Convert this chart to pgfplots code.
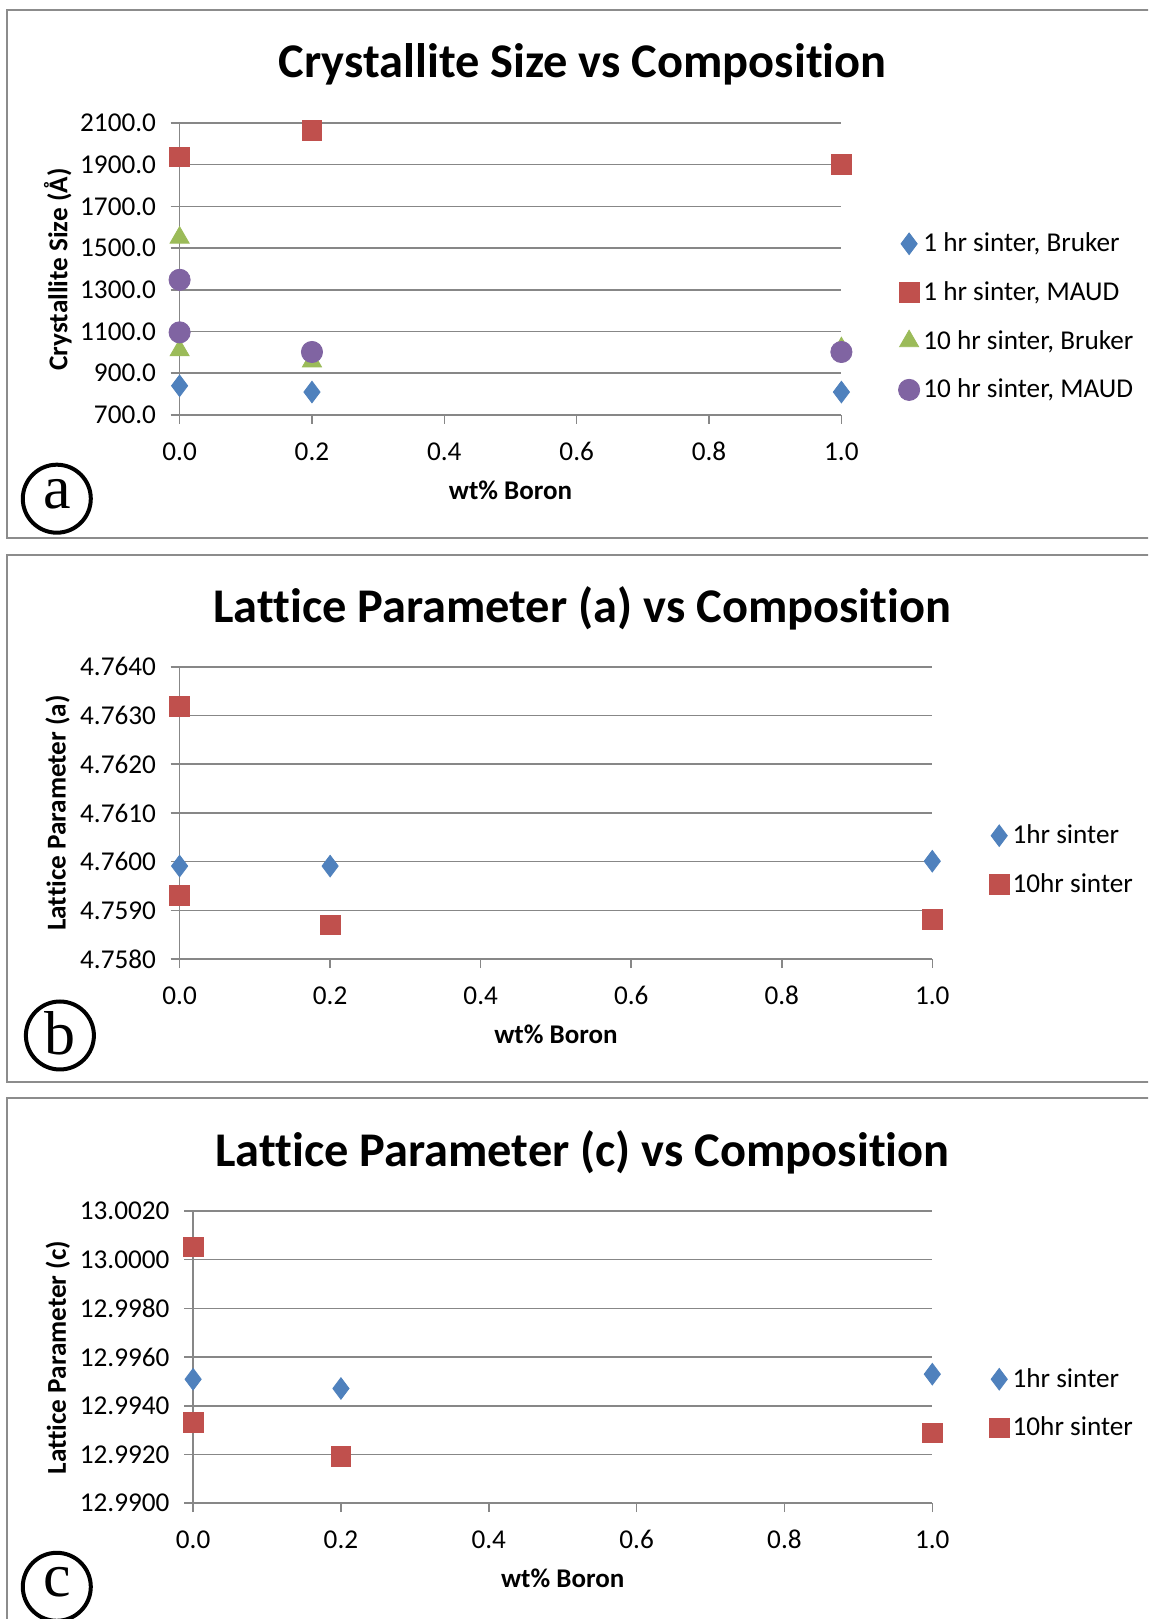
\documentclass[border=0pt]{standalone}
\usepackage{pgfplots}
\pgfplotsset{compat=1.18}
\usepackage{fontspec}
\setmainfont{Carlito}[Ligatures=NoCommon]
\newfontfamily\seriffont{Liberation Serif}
\definecolor{cblue}{HTML}{4F81BD}
\definecolor{cred}{HTML}{C0504D}
\definecolor{cgreen}{HTML}{9BBB59}
\definecolor{cpurple}{HTML}{8064A2}
\definecolor{gridc}{HTML}{878787}
\definecolor{framec}{HTML}{8C8C8C}

\pgfplotsset{
  excel/.style={
    scale only axis,
    clip=false,
    axis lines=left,
    axis line style={-, draw=gridc, line width=0.8pt},
    ymajorgrids,
    grid style={draw=gridc, line width=0.8pt},
    major tick style={draw=gridc, line width=0.8pt},
    tick align=outside,
    major tick length=4.5pt,
    xmin=0, xmax=1,
    xtick={0,0.2,0.4,0.6,0.8,1.0},
    /pgf/number format/assume math mode=true,
    tick label style={font=\fontsize{13.6}{16}\selectfont},
    xticklabel={\pgfmathprintnumber[fixed,fixed zerofill,precision=1]{\tick}},
    xticklabel style={anchor=base, yshift=-18.2pt},
    yticklabel style={anchor=east, inner sep=0pt, xshift=-7.1pt},
    title style={font=\fontsize{24.2}{28}\selectfont\bfseries, anchor=center},
    xlabel style={font=\fontsize{13.5}{16}\selectfont\bfseries, anchor=center, at={(axis description cs:0.5,-0.257)}},
    ylabel style={font=\fontsize{13.6}{16}\selectfont\bfseries, anchor=center},
    xlabel={wt\% Boron},
    legend style={draw=none, fill=none, inner sep=0pt, outer sep=0pt,
      font=\fontsize{13.6}{16}\selectfont, row sep=13.4pt,
      nodes={inner xsep=1.8pt, inner ysep=0pt}, anchor=west},
    legend cell align=left,
    legend image code/.code={\draw[#1] plot coordinates {(0pt,0pt)};},
  },
  s1/.style={only marks, mark=diamond*, mark size=5.4pt, color=cblue},
  s2/.style={only marks, mark=square*, mark size=4.9pt, color=cred},
  s3/.style={only marks, mark=triangle*, mark size=5.5pt, color=cgreen},
  s4/.style={only marks, mark=*, mark size=5.3pt, color=cpurple},
}

\begin{document}
\begin{tikzpicture}
\useasboundingbox (0,0) rectangle (574pt,809.5pt);
\clip (0,0) rectangle (574pt,809.5pt);
\fill[white] (0,0) rectangle (574pt,809.5pt);

\begin{scope}[x=0.5pt,y=-0.5pt,shift={(0pt,809.5pt)}]
  \draw[framec, line width=1pt] (7.2,10.3) rectangle (1170,537.9);
  \draw[framec, line width=1pt] (7.2,555.4) rectangle (1170,1082);
  \draw[framec, line width=1pt] (7.2,1098.5) rectangle (1170,1640);
\end{scope}

% ---------- panel a ----------
\begin{axis}[excel,
  at={(89.8pt,602pt)}, anchor=south west,
  width=330.9pt, height=146.05pt,
  ymin=700, ymax=2100,
  ytick={700,900,1100,1300,1500,1700,1900,2100},
  yticklabel={\pgfmathprintnumber[fixed,fixed zerofill,precision=1,1000 sep={}]{\tick}},
  title={Crystallite Size vs Composition},
  title style={at={(axis description cs:0.609,1.158)}},
  ylabel={Crystallite Size (Å)},
  ylabel style={at={(axis description cs:-0.184,0.498)}},
  legend style={at={(axis description cs:1.0863,0.336)}},
]
\addplot[s1] coordinates {(0,840) (0.2,810) (1.0,810)};
\addplot[s2] coordinates {(0,1937) (0.2,2065) (1.0,1902)};
\addplot[s3] coordinates {(0,1550) (0,1010) (0.2,957) (1.0,1020)};
\addplot[s4] coordinates {(0,1348) (0,1096) (0.2,1002) (1.0,1002)};
\legend{1 hr sinter{,} Bruker, 1 hr sinter{,} MAUD, 10 hr sinter{,} Bruker, 10 hr sinter{,} MAUD}
\end{axis}

% ---------- panel b ----------
\begin{axis}[excel,
  at={(89.8pt,329.95pt)}, anchor=south west,
  width=376.35pt, height=146.1pt,
  ymin=4.758, ymax=4.764,
  ytick={4.758,4.759,4.760,4.761,4.762,4.763,4.764},
  yticklabel={\pgfmathprintnumber[fixed,fixed zerofill,precision=4]{\tick}},
  title={Lattice Parameter (a) vs Composition},
  title style={at={(axis description cs:0.535,1.160)}},
  ylabel={Lattice Parameter (a)},
  ylabel style={at={(axis description cs:-0.162,0.5)}},
  legend style={at={(axis description cs:1.0759,0.339)}},
]
\addplot[s1] coordinates {(0,4.75991) (0.2,4.75991) (1.0,4.76001)};
\addplot[s2] coordinates {(0,4.76319) (0,4.75931) (0.2,4.75870) (1.0,4.75881)};
\legend{1hr sinter, 10hr sinter}
\end{axis}

% ---------- panel c ----------
\begin{axis}[excel,
  at={(96.55pt,57.9pt)}, anchor=south west,
  width=369.6pt, height=146.1pt,
  ymin=12.990, ymax=13.002,
  ytick={12.990,12.992,12.994,12.996,12.998,13.000,13.002},
  yticklabel={\pgfmathprintnumber[fixed,fixed zerofill,precision=4]{\tick}},
  title={Lattice Parameter (c) vs Composition},
  title style={at={(axis description cs:0.527,1.158)}},
  ylabel={Lattice Parameter (c)},
  ylabel style={at={(axis description cs:-0.183,0.498)}},
  legend style={at={(axis description cs:1.0773,0.341)}},
]
\addplot[s1] coordinates {(0,12.99509) (0.2,12.99471) (1.0,12.99530)};
\addplot[s2] coordinates {(0,13.00052) (0,12.99331) (0.2,12.99191) (1.0,12.99288)};
\legend{1hr sinter, 10hr sinter}
\end{axis}

\begin{scope}[x=0.5pt,y=-0.5pt,shift={(0pt,809.5pt)}]
  \draw[black, line width=2pt, fill=white] (56.8,498.7) circle[radius=17pt];
  \node[font=\seriffont\fontsize{31}{31}\selectfont] at (56.8,494) {a};
  \draw[black, line width=2pt, fill=white] (59.9,1035.5) circle[radius=17pt];
  \node[font=\seriffont\fontsize{31}{31}\selectfont] at (59.9,1033) {b};
  \draw[black, line width=2pt, fill=white] (56.8,1586.8) circle[radius=17pt];
  \node[font=\seriffont\fontsize{31}{31}\selectfont] at (56.8,1582) {c};
\end{scope}
\end{tikzpicture}
\end{document}
